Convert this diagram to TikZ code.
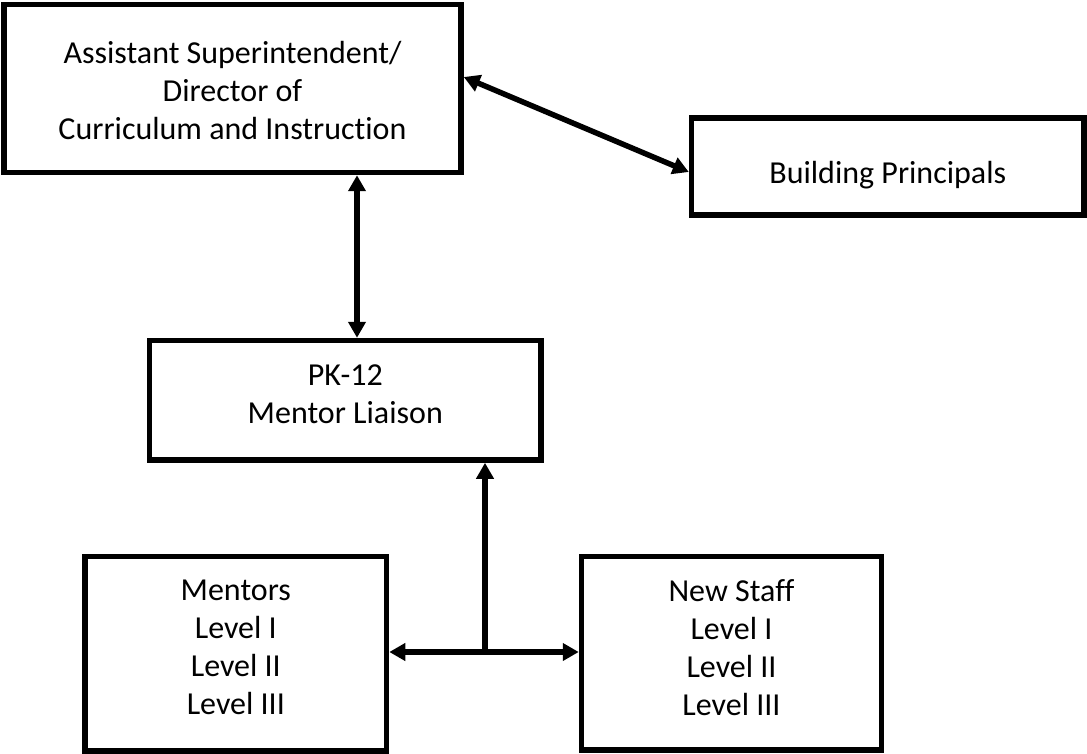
\documentclass[tikz,border=0pt]{standalone}
\usepackage{fontspec}
\setmainfont{Carlito}[Ligatures=NoCommon]
\usetikzlibrary{arrows.meta}

\begin{document}
\begin{tikzpicture}[x=1pt,y=-1pt,>={Triangle[length=16pt,width=17pt]}]

      \useasboundingbox (0,0) rectangle (1087,754);

      % the boxes
      \begin{scope}[every node/.style={draw,rectangle,line width=5.5pt}]
        \node[minimum width=457pt,minimum height=168pt]     (asst)    at (232.5,88.5)  {};
        \node[minimum width=392.5pt,minimum height=97pt]    (princ)   at (887.8,166.5) {};
        \node[minimum width=391.5pt,minimum height=119.5pt] (liaison) at (345.3,400.3) {};
        \node[minimum width=301.5pt,minimum height=194.5pt] (mentors) at (235.8,653.8) {};
        \node[minimum width=300pt,minimum height=193.5pt]   (staff)   at (731.5,653.3) {};
      \end{scope}

      % the texts in them
      \begin{scope}[every node/.style={align=center,font=\fontsize{32}{38}\selectfont}]
        \node (asst-t)    at (232.5,90.5)  {Assistant Superintendent/\\Director of\\Curriculum and Instruction};
        \node (princ-t)   at (887.8,175.5) {Building Principals};
        \node (liaison-t) at (345.3,394.3) {PK-12\\Mentor Liaison};
        \node (mentors-t) at (235.8,647.8) {Mentors\\Level I\\Level II\\Level III};
        \node (staff-t)   at (731.5,647.3) {New Staff\\Level I\\Level II\\Level III};
      \end{scope}

      \coordinate (split) at (485,652);

      \begin{scope}[every edge/.style={draw,line width=5.5pt}]
        \path ([yshift=11.5pt]asst.east) edge[<->] ([yshift=-5.5pt]princ.west);
        \path ([xshift=124.5pt]asst.south) edge[<->] ([xshift=11.7pt]liaison.north);
        \path (split) edge[->] (split |- liaison.south);
        \path (mentors.east |- split) edge[<->] (staff.west |- split);
      \end{scope}

    \end{tikzpicture}
\end{document}
